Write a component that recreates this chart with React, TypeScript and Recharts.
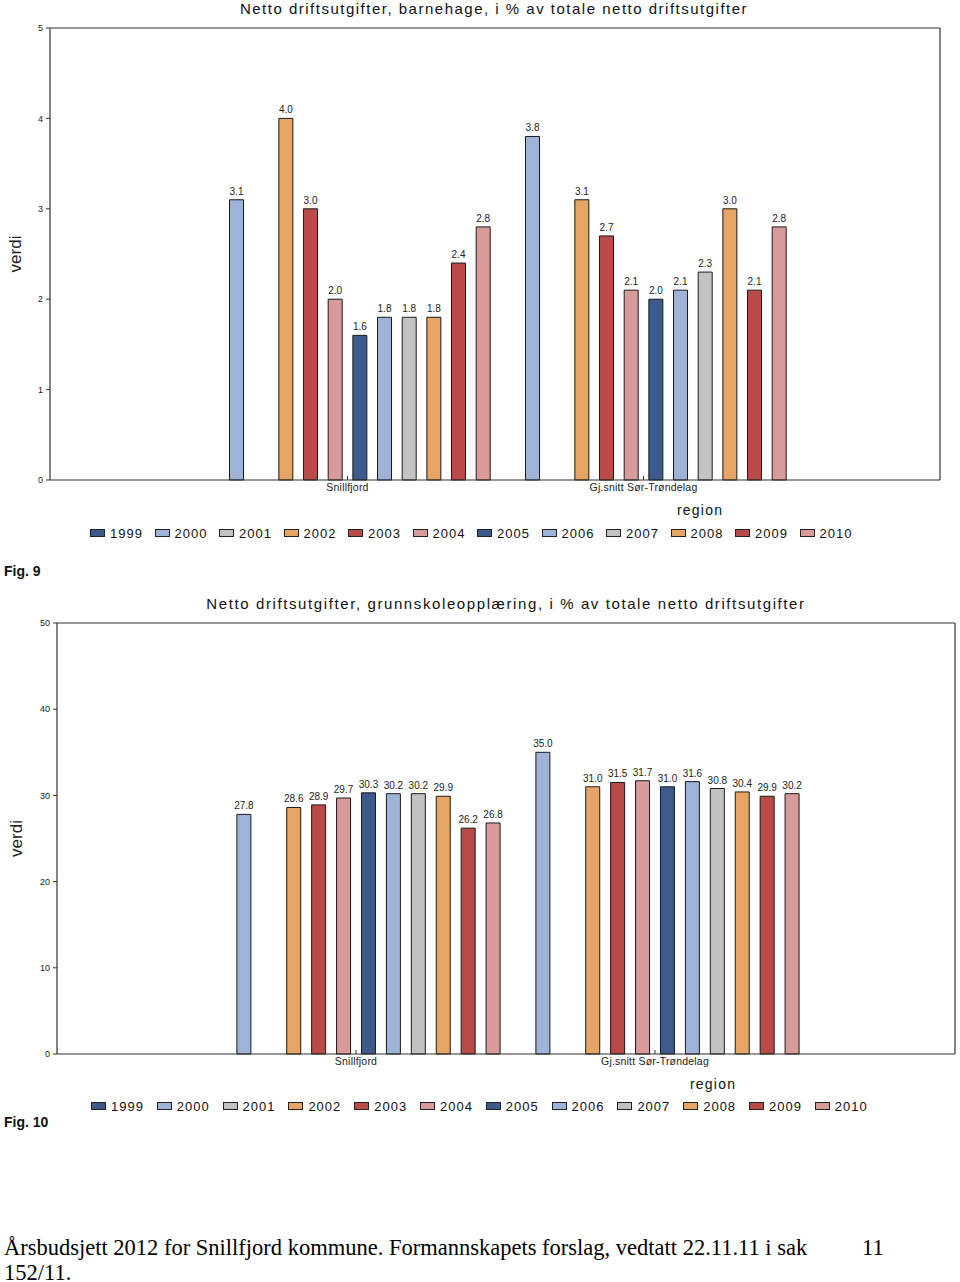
import React from 'react';
import { ComposedChart, Bar, XAxis, YAxis, LabelList, ReferenceLine } from 'recharts';

const years = ['1999', '2000', '2001', '2002', '2003', '2004', '2005', '2006', '2007', '2008', '2009', '2010'];
const regions = ['Snillfjord', 'Gj.snitt Sør-Trøndelag'];
const yearColors = ['#3d5a8c', '#9fb3d9', '#c2c2c2', '#e6a565', '#b84a48', '#d99a9a', '#3d5a8c', '#9fb3d9', '#c2c2c2', '#e6a565', '#b84a48', '#d99a9a'];

const barnehageSnillfjord = [null, 3.1, null, 4.0, 3.0, 2.0, 1.6, 1.8, 1.8, 1.8, 2.4, 2.8];
const barnehageGjsnitt = [null, 3.8, null, 3.1, 2.7, 2.1, 2.0, 2.1, 2.3, 3.0, 2.1, 2.8];
const grunnskoleSnillfjord = [null, 27.8, null, 28.6, 28.9, 29.7, 30.3, 30.2, 30.2, 29.9, 26.2, 26.8];
const grunnskoleGjsnitt = [null, 35.0, null, 31.0, 31.5, 31.7, 31.0, 31.6, 30.8, 30.4, 29.9, 30.2];

const barnehageTicks = [0, 1, 2, 3, 4, 5];
const grunnskoleTicks = [0, 10, 20, 30, 40, 50];

const title1 = 'Netto driftsutgifter, barnehage, i % av totale netto driftsutgifter';
const title2 = 'Netto driftsutgifter, grunnskoleopplæring, i % av totale netto driftsutgifter';
const yLabel = 'verdi';
const xLabel = 'region';

const SANS = '"Liberation Sans", Arial, sans-serif';
const SERIF = '"Liberation Serif", "Times New Roman", serif';

function buildRows(a: (number | null)[], b: (number | null)[]) {
  return regions.map((r, ri) => {
    const row: any = { region: r };
    const src = ri === 0 ? a : b;
    years.forEach((y, i) => {
      row['y' + y] = src[i];
    });
    return row;
  });
}

const fmt = (v: any) => (v === null || v === undefined ? '' : Number(v).toFixed(1));

type ChartProps = {
  rows: any[];
  width: number;
  height: number;
  marginTop: number;
  marginRight: number;
  yWidth: number;
  ticks: number[];
  padL: number;
  padR: number;
  barGap: number;
  catGap: number;
  labelDx: number;
};

function GroupChart(p: ChartProps) {
  const yMax = p.ticks[p.ticks.length - 1];
  return (
    <ComposedChart
      width={p.width}
      height={p.height}
      data={p.rows}
      margin={{ top: p.marginTop, right: p.marginRight, left: 0, bottom: 0 }}
      barGap={p.barGap}
      barCategoryGap={p.catGap}
    >
      <XAxis
        dataKey="region"
        type="category"
        padding={{ left: p.padL, right: p.padR }}
        height={30}
        tickSize={-4}
        tickMargin={8}
        axisLine={{ stroke: '#333', strokeWidth: 1.2 }}
        tickLine={{ stroke: '#333' }}
        tick={{ fontSize: 10.5, fill: '#222', fontFamily: SANS, letterSpacing: 0.2 }}
        interval={0}
      />
      <XAxis xAxisId="frame" type="number" domain={[0, 1]} hide />
      <YAxis
        width={p.yWidth}
        domain={[p.ticks[0], yMax]}
        ticks={p.ticks}
        interval={0}
        tickSize={4}
        tickMargin={3}
        axisLine={{ stroke: '#333', strokeWidth: 1.2 }}
        tickLine={{ stroke: '#333' }}
        tick={{ fontSize: 9, fill: '#222', fontFamily: SANS }}
        label={{ value: yLabel, angle: -90, position: 'center', dx: p.labelDx, fontSize: 17, fill: '#222', fontFamily: SANS }}
      />
      <ReferenceLine y={yMax} stroke="#333" strokeWidth={1.2} />
      <ReferenceLine xAxisId="frame" x={1} stroke="#333" strokeWidth={1.2} />
      {years.map((y, i) => (
        <Bar
          key={y}
          dataKey={'y' + y}
          name={y}
          fill={yearColors[i]}
          stroke="#1a1a1a"
          strokeWidth={1}
          isAnimationActive={false}
        >
          <LabelList
            dataKey={'y' + y}
            position="top"
            offset={5}
            formatter={fmt}
            style={{ fontSize: 10, fill: '#222', fontFamily: SANS }}
          />
        </Bar>
      ))}
    </ComposedChart>
  );
}

function LegendRow({ left, top, pitch }: { left: number; top: number; pitch: number }) {
  return (
    <div style={{ position: 'absolute', left, top, display: 'flex', fontFamily: SANS, fontSize: 13, letterSpacing: 1, color: '#111' }}>
      {years.map((y, i) => (
        <div key={y} style={{ width: pitch, display: 'flex', alignItems: 'center', height: 16 }}>
          <span style={{ display: 'inline-block', width: 13, height: 6, background: yearColors[i], border: '1px solid #222', marginRight: 5 }} />
          <span>{y}</span>
        </div>
      ))}
    </div>
  );
}

const abs = (left: number, top: number, extra: React.CSSProperties = {}): React.CSSProperties => ({
  position: 'absolute',
  left,
  top,
  whiteSpace: 'nowrap',
  ...extra,
});

export default function App() {
  const rows1 = buildRows(barnehageSnillfjord, barnehageGjsnitt);
  const rows2 = buildRows(grunnskoleSnillfjord, grunnskoleGjsnitt);
  return (
    <div style={{ position: 'absolute', left: 0, top: 0, width: 960, height: 1282, background: '#fff', overflow: 'hidden' }}>
      {/* Chart 1 */}
      <div style={abs(0, 0, { width: 988, textAlign: 'center', fontFamily: SANS, fontSize: 15, letterSpacing: 1.5, color: '#111' })}>{title1}</div>
      <div style={abs(0, 0)}>
        <GroupChart
          rows={rows1}
          width={942}
          height={510}
          marginTop={28}
          marginRight={2}
          yWidth={50}
          ticks={barnehageTicks}
          padL={149.5}
          padR={148.5}
          barGap={10.67}
          catGap={5.33}
          labelDx={-10}
        />
      </div>
      <div style={abs(677, 502, { fontFamily: SANS, fontSize: 14, letterSpacing: 1.2, color: '#111' })}>{xLabel}</div>
      <LegendRow left={90} top={525} pitch={64.5} />
      <div style={abs(4, 563, { fontFamily: SANS, fontSize: 14, fontWeight: 'bold', color: '#111' })}>Fig. 9</div>

      {/* Chart 2 */}
      <div style={abs(0, 595, { width: 1012, textAlign: 'center', fontFamily: SANS, fontSize: 15, letterSpacing: 1.6, color: '#111' })}>{title2}</div>
      <div style={abs(0, 590)}>
        <GroupChart
          rows={rows2}
          width={958}
          height={494}
          marginTop={33}
          marginRight={3}
          yWidth={57}
          ticks={grunnskoleTicks}
          padL={149.5}
          padR={150.5}
          barGap={10.92}
          catGap={5.46}
          labelDx={-13}
        />
      </div>
      <div style={abs(690, 1076, { fontFamily: SANS, fontSize: 14, letterSpacing: 1.2, color: '#111' })}>{xLabel}</div>
      <LegendRow left={91} top={1098} pitch={65.8} />
      <div style={abs(4, 1114, { fontFamily: SANS, fontSize: 14, fontWeight: 'bold', color: '#111' })}>Fig. 10</div>

      {/* Footer */}
      <div style={abs(4, 1235, { fontFamily: SERIF, fontSize: 22.5, lineHeight: '25px', color: '#000' })}>
        Årsbudsjett 2012 for Snillfjord kommune. Formannskapets forslag, vedtatt 22.11.11 i sak
        <br />
        152/11.
      </div>
      <div style={abs(862, 1235, { fontFamily: SERIF, fontSize: 22.5, lineHeight: '25px', color: '#000' })}>11</div>
    </div>
  );
}
